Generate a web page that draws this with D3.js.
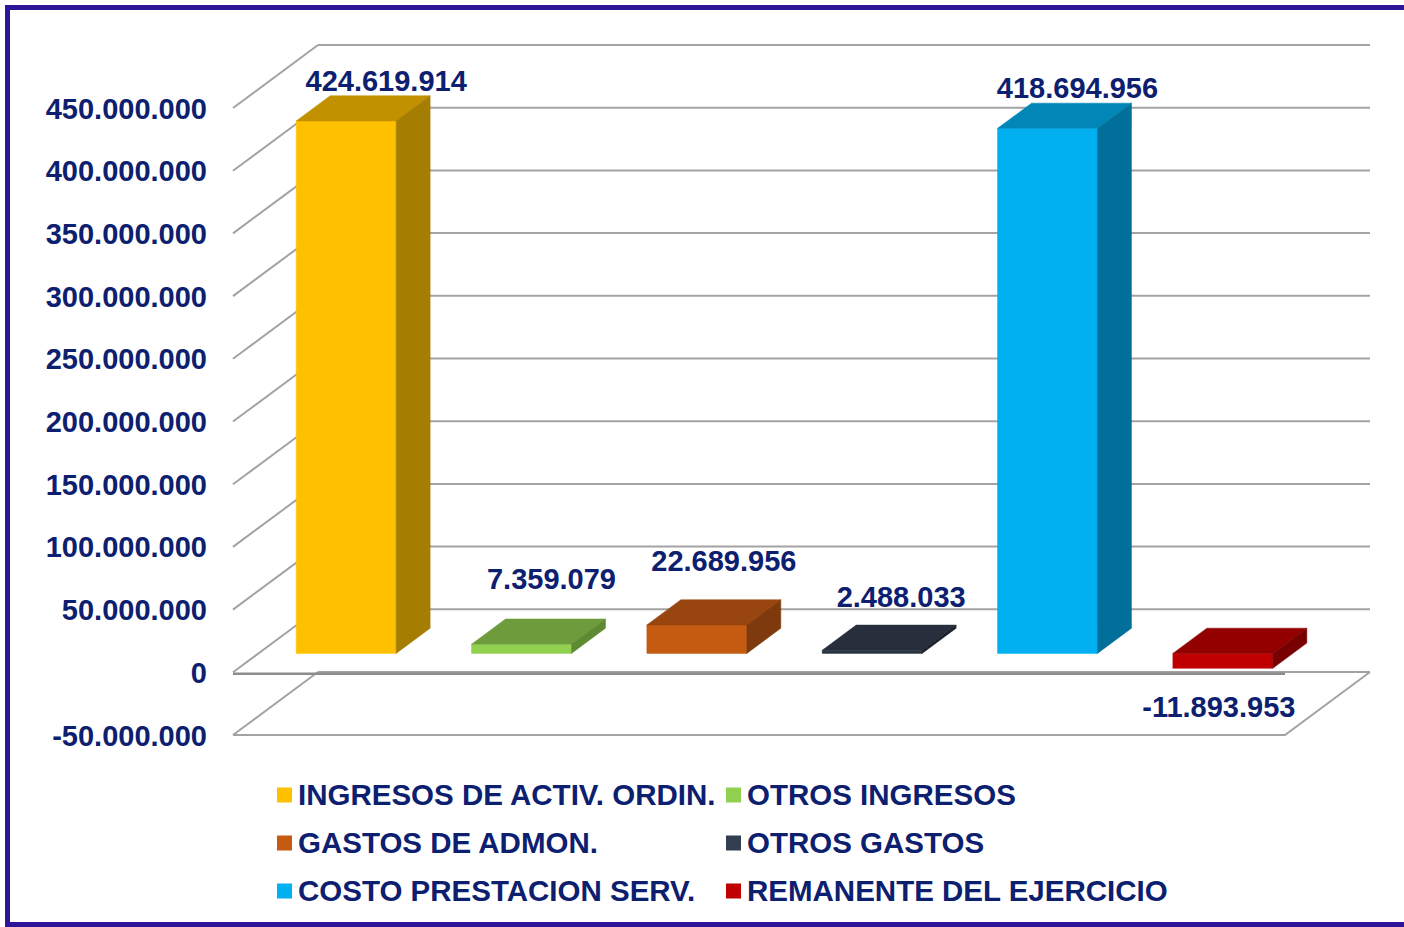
<!DOCTYPE html>
<html>
<head>
<meta charset="utf-8">
<script src="https://cdnjs.cloudflare.com/ajax/libs/d3/7.8.5/d3.min.js"></script>
<style>
    body { margin: 0; background: #ffffff; }
    text { font-family: "Liberation Sans", Arial, sans-serif; font-weight: bold; }
</style>
</head>
<body>
<script>
// chart data
var categories = ["INGRESOS DE ACTIV. ORDIN.", "OTROS INGRESOS", "GASTOS DE ADMON.",
    "OTROS GASTOS", "COSTO PRESTACION SERV.", "REMANENTE DEL EJERCICIO"];
var values = [424619914, 7359079, 22689956, 2488033, 418694956, -11893953];
var yTicks = [-50000000, 0, 50000000, 100000000, 150000000, 200000000, 250000000,
    300000000, 350000000, 400000000, 450000000];

// face colours: front, top, side
var frontColors = ["#FFC000", "#92D050", "#C55A11", "#2B3441", "#00B0F0", "#C00000"];
var topColors = ["#C29100", "#6E9C3C", "#98450F", "#262F3B", "#0087B8", "#920000"];
var sideColors = ["#A57D00", "#5E8A33", "#7E3A0C", "#1B222B", "#00709A", "#780000"];
var legendColors = ["#FFC000", "#92D050", "#C55A11", "#333F50", "#00B0F0", "#C00000"];

// label nudges relative to the bar front face end [dx, dy]
var labelOffset = [[40, -30], [30, -55], [27, -54], [29, -43], [30, -30], [-4, 49]];

var width = 1404, height = 927;
var textColor = "#0d2070";
var gridColor = "#a3a3a3";

// 3d depth of the plot box
var DX = 85, DY = -63;
var barFront = 0.3, barBack = 0.7;

var left = 233, right = 1285;

var svg = d3.select("body").append("svg")
    .attr("width", width)
    .attr("height", height);

var fmt = d3.formatLocale({decimal: ",", thousands: ".", grouping: [3], currency: ["", ""], minus: "-"}).format(",d");

var x = d3.scaleBand()
    .domain(categories)
    .range([left, right])
    .paddingInner(0.43)
    .paddingOuter(0.215);

var y = d3.scaleLinear()
    .domain([-50000000, 450000000])
    .range([735, 108]);

var bw = x.bandwidth();

var pt = function (px, v, d) {
    return [px + d * DX, y(v) + d * DY];
};

var line = d3.line();

// grid: left diagonals and back wall lines
var grid = svg.append("g").attr("id", "grid");

yTicks.forEach(function (t) {
    grid.append("path")
        .attr("d", line([pt(left, t, 0), pt(left, t, 1)]))
        .style("stroke", gridColor)
        .style("stroke-width", 2)
        .style("fill", "none");
    grid.append("path")
        .attr("d", line([pt(left, t, 1), pt(right, t, 1)]))
        .style("stroke", gridColor)
        .style("stroke-width", 2)
        .style("fill", "none");
});

// floor front edge and right edge
var yMin = y.domain()[0];
grid.append("path")
    .attr("d", line([pt(left, yMin, 0), pt(right, yMin, 0), pt(right, yMin, 1)]))
    .style("stroke", gridColor)
    .style("stroke-width", 2)
    .style("fill", "none");

// category axis at zero
svg.append("line")
    .attr("x1", left)
    .attr("y1", y(0) + 1.5)
    .attr("x2", right)
    .attr("y2", y(0) + 1.5)
    .style("stroke", "#8c8c8c")
    .style("stroke-width", 2.5);

// y axis labels
svg.append("g")
    .selectAll("text")
    .data(yTicks)
    .join("text")
    .attr("x", 207)
    .attr("y", function (d) { return y(d) + 10.5; })
    .attr("text-anchor", "end")
    .style("font-size", "29px")
    .style("fill", textColor)
    .text(function (d) { return fmt(d); });

// bars
var bars = svg.append("g").attr("id", "bars");

categories.forEach(function (c, i) {
    var v = values[i];
    var x0 = x(c), x1 = x(c) + bw;
    var vTop = Math.max(0, v), vBot = Math.min(0, v);

    var face = function (pts, color) {
        bars.append("path")
            .attr("d", line(pts) + "Z")
            .style("fill", color)
            .style("stroke", color)
            .style("stroke-width", 0.5);
    };

    // front
    face([pt(x0, vTop, barFront), pt(x1, vTop, barFront), pt(x1, vBot, barFront), pt(x0, vBot, barFront)], frontColors[i]);
    // top
    face([pt(x0, vTop, barFront), pt(x1, vTop, barFront), pt(x1, vTop, barBack), pt(x0, vTop, barBack)], topColors[i]);
    // side
    face([pt(x1, vTop, barFront), pt(x1, vTop, barBack), pt(x1, vBot, barBack), pt(x1, vBot, barFront)], sideColors[i]);

    // value label
    var anchor = pt(x0 + bw / 2, v, barFront);
    svg.append("text")
        .attr("x", anchor[0] + labelOffset[i][0])
        .attr("y", anchor[1] + labelOffset[i][1])
        .attr("text-anchor", "middle")
        .style("font-size", "29px")
        .style("fill", textColor)
        .text(fmt(v));
});

// legend, two columns
var legend = svg.append("g").attr("id", "legend");
var colX = [277, 726];
var rowY = [795, 843, 891];

categories.forEach(function (c, i) {
    var lx = colX[i % 2], ly = rowY[Math.floor(i / 2)];
    legend.append("rect")
        .attr("x", lx)
        .attr("y", ly - 7.5)
        .attr("width", 15)
        .attr("height", 15)
        .style("fill", legendColors[i]);
    legend.append("text")
        .attr("x", lx + 21)
        .attr("y", ly + 10)
        .style("font-size", "29.5px")
        .style("fill", textColor)
        .text(c);
});

// outer frame
svg.append("rect")
    .attr("x", 7.5)
    .attr("y", 7.5)
    .attr("width", width)
    .attr("height", 917)
    .style("fill", "none")
    .style("stroke", "#2E1499")
    .style("stroke-width", 5);
</script>
</body>
</html>
